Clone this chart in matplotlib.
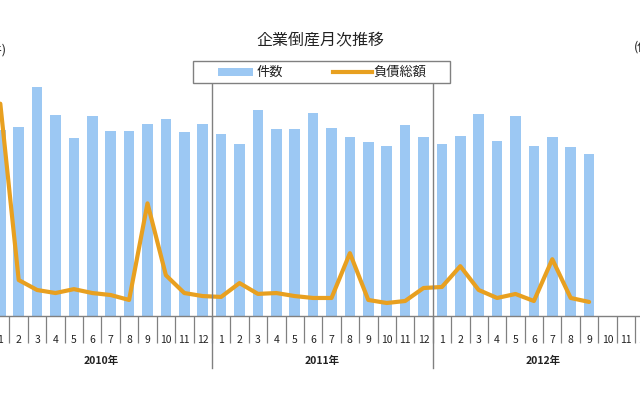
import matplotlib
matplotlib.use("Agg")
import matplotlib.pyplot as plt
import matplotlib.patches as mpatches
import matplotlib.lines as mlines
import matplotlib.transforms as mtrans
import numpy as np

plt.rcParams['font.family'] = ['Noto Sans CJK JP', 'DejaVu Sans']

# ---- data ----
years = ["2010年", "2011年", "2012年"]
month_labels = [str(m) for m in range(1, 13)] * 3
counts = [1002, 1018, 1233, 1082, 958, 1077, 996, 996, 1034, 1061, 991, 1034,
          980, 926, 1109, 1007, 1007, 1093, 1012, 964, 937, 915, 1028, 964,
          926, 969, 1088, 942, 1077, 915, 964, 910, 872]
debt = [24500, 4150, 3000, 2650, 3100, 2650, 2420, 1850, 13000, 4700, 2650, 2300,
        2200, 3800, 2550, 2650, 2300, 2080, 2080, 7250, 1850, 1500, 1730, 3230,
        3350, 5750, 3000, 2080, 2540, 1730, 6550, 2080, 1620]

BAR_C = "#9CC8F3"
LINE_C = "#E8A020"
GRAY = "#808080"
TXT = "#222222"

W, H = 640, 400
fig = plt.figure(figsize=(6.4, 4.0), dpi=100)

def fx(px):
    return px / W

def fy(py):
    return 1 - py / H

n = len(month_labels)
left_px, right_px = -8.9, 653.5
top_px, bot_px = 56, 316
ax = fig.add_axes([fx(left_px), fy(bot_px), fx(right_px - left_px), (bot_px - top_px) / H])
ax2 = ax.twinx()

x = np.arange(len(counts))
ax.bar(x, counts, width=0.58, color=BAR_C, zorder=1)
ax2.plot(np.arange(len(debt)), debt, color=LINE_C, lw=3.0, solid_joinstyle='round',
         solid_capstyle='round', zorder=3)

ax.set_xlim(-0.5, n - 0.5)
ax.set_ylim(0, 1400)
ax2.set_ylim(0, 30000)

for a in (ax, ax2):
    for s in ("left", "right", "top"):
        a.spines[s].set_visible(False)
    a.set_yticks([])
ax.spines["bottom"].set_color(GRAY)
ax.spines["bottom"].set_linewidth(1.0)
ax2.spines["bottom"].set_visible(False)

# boundaries as major ticks, labels as minor ticks
ax.set_xticks(np.arange(-0.5, n, 1.0))
ax.set_xticklabels([])
ax.tick_params(axis='x', which='major', length=19.4, width=0.9, color=GRAY, direction='out')
ax.set_xticks(x.tolist() + [33, 34, 35], minor=True)
ax.set_xticklabels(month_labels, minor=True, fontsize=7.5, color=TXT)
ax.tick_params(axis='x', which='minor', length=0, pad=14)
ax.set_zorder(ax2.get_zorder() - 1) if False else None

# year labels and dividers
tr = mtrans.blended_transform_factory(ax.transData, fig.transFigure)
for i, yl in enumerate(years):
    ax.text(i * 12 + 5.5, fy(361), yl, transform=tr, ha='center', va='center',
            fontsize=7.5, color=TXT, fontweight='bold')
for b in (11.5, 23.5):
    fig.add_artist(mlines.Line2D([b, b], [fy(83), fy(368)], transform=tr,
                                 color=GRAY, lw=1.0, zorder=5))

# title
fig.text(fx(320), fy(41), "企業倒産月次推移", ha='center', va='center',
         fontsize=11.5, color=TXT)

# axis unit labels (cut by the image edge)
fig.text(fx(7), fy(50), "(件)", ha='right', va='center', fontsize=9, color=TXT)
fig.text(fx(634), fy(47), "(億円)", ha='left', va='center', fontsize=9, color=TXT)

# legend box
fig.add_artist(mpatches.Rectangle((fx(193), fy(83)), fx(450 - 193), (83 - 61) / H,
                                  transform=fig.transFigure, facecolor='white',
                                  edgecolor=GRAY, lw=1.0, zorder=6))
fig.add_artist(mpatches.Rectangle((fx(218), fy(76)), fx(253 - 218), 8 / H,
                                  transform=fig.transFigure, facecolor=BAR_C,
                                  edgecolor='none', zorder=7))
fig.text(fx(257), fy(72), "件数", ha='left', va='center', fontsize=9.5, color=TXT, zorder=7)
fig.add_artist(mlines.Line2D([fx(333), fx(372)], [fy(72), fy(72)], transform=fig.transFigure,
                             color=LINE_C, lw=3.0, zorder=7))
fig.text(fx(373), fy(72), "負債総額", ha='left', va='center', fontsize=9.5, color=TXT, zorder=7)

fig.savefig("out.png", dpi=100)
